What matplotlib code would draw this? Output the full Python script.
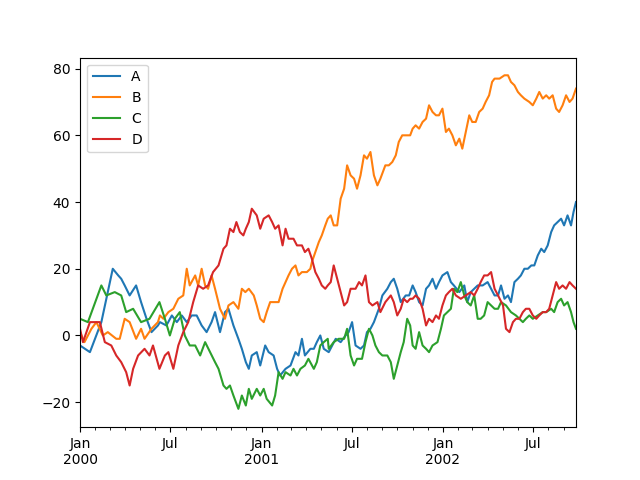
import numpy as np
import matplotlib
matplotlib.use("Agg")
import matplotlib.pyplot as plt
import matplotlib.dates as mdates

# ===============================
# DATA (days since 2000-01-01)
# ===============================
a_days = [0, 20, 43, 66, 77, 83, 90, 100, 113, 123, 134, 144, 157,
          161, 174, 185, 195, 205, 215, 225, 235, 245, 255, 265, 272, 282, 292, 299, 309, 319, 326, 334, 340,
          346, 356, 363, 373, 380, 390, 397, 403, 414, 424, 434, 440, 447, 453, 464, 471, 477, 484, 491,
          501, 508, 515, 525, 535, 541, 548, 555, 565, 572, 578, 585, 592, 602, 609, 619, 626, 632, 639, 646, 656,
          663, 670, 676, 683, 690, 697, 703, 710, 717, 723, 730, 740, 747, 753, 764, 774, 780, 787, 794, 801, 811, 821,
          828, 835, 842, 848, 855, 862, 868, 875, 882, 888, 895, 902, 909, 915, 922, 929, 935, 942, 949, 955, 962,
          969, 975, 982, 989, 994, 999]
a_vals = [-3, -5, 4, 20, 18, 17, 15, 12, 15, 10, 5, 1, 3,
          4, 3, 6, 4, 6, 4, 6, 6, 3, 1, 4, 7, 1, 7, 8, 3, -1, -4, -8, -10,
          -6, -5, -9, -3, -5, -6, -10, -12, -10, -9, -5, -6, -1, -6, -4, -4, -2, 0, -4,
          -5, -3, -1, -2, 0, 1, 4, -3, -4, -3, 1, 2, 4, 8, 12, 14, 16, 17, 14, 10, 12,
          12, 15, 13, 10, 9, 14, 15, 17, 14, 16, 18, 19, 16, 15, 13, 15, 10, 13, 14, 15, 15, 16,
          14, 12, 12, 15, 11, 12, 10, 16, 17, 18, 20, 20, 21, 21, 24, 26, 25, 27, 31, 33, 34,
          35, 33, 36, 33, 37, 40]

b_days = [0, 9, 23, 33, 46, 56, 73, 80, 90, 100, 113, 123, 130, 144, 157,
          161, 168, 178, 188, 198, 208, 215, 221, 232, 238, 245, 252, 258, 265, 272, 282, 292, 299, 309, 319,
          326, 333, 340, 350, 356, 363, 370, 376, 383, 390, 400, 408, 414, 420, 427, 434, 440, 447, 457, 464,
          467, 474, 481, 487, 494, 499,
          505, 511, 518, 525, 532, 538, 545, 552, 558, 565, 572, 578, 585, 592, 599, 605, 615, 622, 629, 636,
          642, 649, 656, 665,
          670, 676, 683, 690, 697, 703, 710, 717, 723, 730, 737, 743, 750, 757, 764, 770, 777, 784, 790, 797,
          804, 811, 817, 824,
          830, 835, 845, 855, 862, 868, 875, 882, 888, 895, 905, 912, 919, 925, 932, 939, 945, 952, 959, 965,
          972, 979, 986, 992, 999]
b_vals = [1, -2, 2, 4, 0, 1, -1, -1, 5, 4, -1, 2, -1, 2, 4,
          6, 5, 7, 8, 11, 12, 20, 15, 18, 15, 20, 15, 14, 18, 14, 8, 5, 9, 10, 8,
          14, 13, 14, 12, 9, 5, 4, 7, 10, 10, 10, 14, 16, 18, 20, 21, 18, 19, 19, 20,
          22, 25, 28, 30, 33, 35,
          36, 33, 33, 41, 44, 51, 48, 47, 44, 48, 54, 53, 55, 48, 45, 47, 51, 51, 52, 54,
          58, 60, 60, 60,
          62, 63, 62, 64, 65, 69, 67, 66, 66, 68, 61, 62, 60, 57, 59, 56, 61, 66, 64, 64,
          67, 68, 70, 72,
          76, 77, 77, 78, 78, 76, 75, 73, 72, 71, 70, 69, 71, 73, 71, 72, 71, 72, 68, 67,
          69, 72, 70, 71, 74]

c_days = [0, 16, 43, 53, 70, 83, 93, 107, 123, 140, 160,
          171, 181, 191, 201, 211, 221, 232, 242, 252, 262, 272, 279, 289, 295, 302, 309, 319, 326, 334,
          340, 346, 356, 363, 370, 376, 387, 393, 400, 408, 414, 424, 430, 437, 444, 453, 460, 471, 477, 484,
          491, 499,
          501, 511, 521, 532, 538, 545, 552, 558, 568, 575, 582, 589, 595, 602, 609, 619, 626, 632, 639, 646,
          652, 659,
          665, 670, 676, 683, 690, 697, 703, 710, 720, 727, 733, 740, 747, 753, 760, 767, 774, 780, 787, 794,
          801, 807, 814, 821,
          828, 835, 842, 848, 858, 868, 878, 885, 892, 898, 905, 912, 922, 932, 939, 949, 955, 962, 969, 975,
          982, 989, 994, 999]
c_vals = [5, 4, 15, 12, 13, 12, 7, 8, 4, 5, 10,
          5, 0, 5, 7, 0, -3, -3, -6, -2, -5, -8, -10, -15, -16, -15, -18, -22, -18, -21,
          -16, -19, -16, -18, -16, -19, -21, -18, -11, -13, -11, -12, -10, -12, -10, -9, -7, -10, -8, -3,
          -2, -1,
          -4, -2, -1, -1, 2, -6, -9, -7, -7, -2, 2, 0, -3, -5, -6, -6, -8, -13, -9, -5,
          -2, 5,
          3, -3, -4, 1, -3, -4, -5, -3, -2, 2, 6, 7, 8, 14, 13, 16, 12, 10, 9, 12,
          5, 5, 6, 10,
          9, 8, 8, 10, 9, 7, 6, 5, 4, 5, 6, 5, 6, 7, 7, 8, 7, 10, 11, 9,
          10, 7, 4, 2]

d_days = [0, 6, 20, 40, 50, 63, 73, 83, 93, 100, 107, 117, 130, 140, 147, 160,
          171, 178, 188, 198, 208, 218, 228, 238, 248, 258, 268, 279, 289, 295, 302, 309, 315, 322, 329, 334,
          340, 346, 356, 363, 370, 380, 387, 393, 400, 408, 414, 420, 430, 437, 447, 453, 460, 467, 474, 481,
          487, 494, 499,
          505, 511, 518, 525, 532, 538, 545, 555, 562, 568, 575, 582, 589, 599, 605, 615, 626, 632, 639, 646,
          652, 659, 665,
          670, 676, 683, 690, 697, 703, 710, 717, 723, 730, 737, 743, 750, 757, 767, 777, 787, 794, 801, 807,
          814, 821,
          828, 835, 842, 852, 858, 865, 872, 878, 885, 892, 898, 905, 912, 919, 925, 932, 939, 945, 952, 959,
          965, 972, 979, 986, 992, 999]
d_vals = [2, -2, 4, 4, -2, -3, -6, -8, -11, -15, -10, -6, -4, -6, -3, -10,
          -6, -5, -10, -3, 1, 4, 10, 15, 14, 15, 19, 21, 26, 27, 32, 31, 34, 31, 30, 32,
          34, 38, 36, 32, 35, 36, 34, 32, 33, 27, 32, 29, 29, 27, 27, 25, 26, 23, 19, 17,
          15, 14, 15,
          16, 21, 17, 13, 9, 10, 14, 14, 16, 15, 18, 10, 9, 10, 7, 10, 12, 10, 6, 8,
          11, 10, 11,
          11, 12, 11, 8, 3, 5, 4, 6, 5, 9, 12, 13, 14, 12, 11, 12, 13, 12, 14, 16,
          18, 18,
          19, 14, 12, 9, 2, 1, 4, 5, 5, 7, 8, 8, 6, 5, 6, 7, 7, 8, 12, 16,
          14, 15, 14, 16, 15, 14]

series_names = ["A", "B", "C", "D"]
start = np.datetime64("2000-01-01")
end = np.datetime64("2002-09-26")

# ===============================
# PLOT
# ===============================
fig, ax = plt.subplots(figsize=(6.4, 4.8), dpi=100)

for name, days, vals in zip(series_names,
                            [a_days, b_days, c_days, d_days],
                            [a_vals, b_vals, c_vals, d_vals]):
    dates = start + np.array(days).astype("timedelta64[D]")
    ax.plot(dates, vals, label=name)

ax.set_xlim(start, end)
ax.set_ylim(-27.5, 83.3)

# x axis like pandas period ticks: Jan/Jul majors, monthly minors
ax.xaxis.set_major_locator(mdates.MonthLocator(bymonth=[1, 7]))
ax.xaxis.set_minor_locator(mdates.MonthLocator())


def fmt(x, pos=None):
    d = mdates.num2date(x)
    if d.month == 1:
        return "Jan\n%d" % d.year
    return "Jul"


ax.xaxis.set_major_formatter(plt.FuncFormatter(fmt))
ax.xaxis.set_minor_formatter(plt.NullFormatter())
for lbl in ax.get_xticklabels():
    lbl.set_ha("center")

ax.legend(loc="upper left")

plt.savefig("out.png")
plt.close()
